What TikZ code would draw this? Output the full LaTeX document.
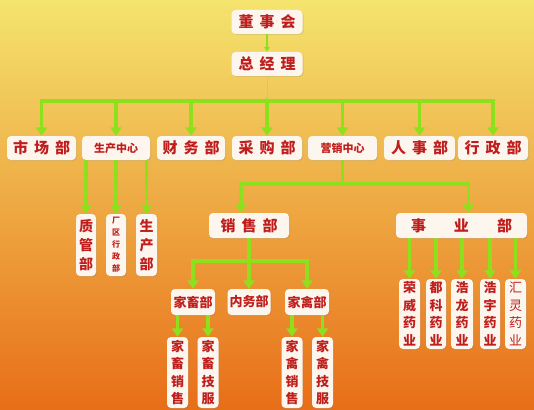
\documentclass[tikz,border=0pt]{standalone}
\usepackage{fontspec}
\newfontfamily\cjk{Noto Sans CJK SC}
\usetikzlibrary{arrows.meta,positioning,shadows}
\definecolor{bgTop}{HTML}{F4E46E}
\definecolor{bgMid}{HTML}{EEAE40}
\definecolor{bgBot}{HTML}{E86E18}
\definecolor{lineGreen}{HTML}{8EE01E}
\definecolor{txtRed}{HTML}{C01E1C}
\definecolor{boxFill}{HTML}{FCF6EE}
\tikzstyle{basic} = [rectangle, rounded corners=4pt, fill=boxFill, text=txtRed, inner sep=0pt, drop shadow={opacity=0.2, shadow xshift=1pt, shadow yshift=-1pt}, font=\cjk\bfseries\fontsize{15}{18}\selectfont]
\tikzstyle{dept} = [basic, minimum width=69pt, minimum height=24pt]
\tikzstyle{smalldept} = [dept, font=\cjk\bfseries\fontsize{11}{13}\selectfont]
\tikzstyle{subdept} = [basic, minimum width=44pt, minimum height=26pt, font=\cjk\bfseries\fontsize{13}{15}\selectfont]
\tikzstyle{vbox} = [basic, align=center, minimum width=21pt, font=\cjk\bfseries\fontsize{13}{17.5}\selectfont]

\begin{document}
\begin{tikzpicture}[x=1pt, y=-1pt]
        \tikzset{link/.style={draw=lineGreen, line width=3.2pt},
            arr/.style={link, -{Triangle[width=11pt,length=8.5pt]}}}
        \shade[top color=bgTop, middle color=bgMid, bottom color=bgBot] (0,0) rectangle (534,409);

        \node (board) [dept, minimum width=71pt] at (267,22) {董\hspace{6pt}事\hspace{6pt}会};
        \node (gm) [dept, minimum width=71pt] at (267,64) {总\hspace{6pt}经\hspace{6pt}理};

        \node (market) [dept] at (41.5,148) {市\hspace{6pt}场\hspace{6pt}部};
        \node (prodCenter) [smalldept, minimum width=68pt] at (116,148) {生产中心};
        \node (finance) [dept, minimum width=68pt] at (191,148) {财\hspace{6pt}务\hspace{6pt}部};
        \node (purchase) [dept, minimum width=70pt] at (267,148) {采\hspace{6pt}购\hspace{6pt}部};
        \node (salesCenter) [smalldept] at (342.5,148) {营销中心};
        \node (hr) [dept, minimum width=71pt] at (419.5,148) {人\hspace{6pt}事\hspace{6pt}部};
        \node (admin) [dept, minimum width=70pt] at (493,148) {行\hspace{6pt}政\hspace{6pt}部};

        \node (quality) [vbox, minimum width=20pt, minimum height=62pt, font=\cjk\bfseries\fontsize{14}{19}\selectfont] at (86,245) {质\\管\\部};
        \node (plantAdmin) [vbox, minimum width=20pt, minimum height=62pt, font=\cjk\bfseries\fontsize{8}{12}\selectfont] at (116,245) {厂\\区\\行\\政\\部};
        \node (production) [vbox, minimum height=62pt, font=\cjk\bfseries\fontsize{14}{19}\selectfont] at (146.5,245) {生\\产\\部};

        \node (sales) [dept, minimum width=80pt, minimum height=25pt] at (249,225.5) {销\hspace{6pt}售\hspace{6pt}部};
        \node (business) [dept, minimum width=131pt, minimum height=25pt] at (461.5,225.5) {事\hspace{28pt}业\hspace{28pt}部};

        \node (livestock) [subdept] at (193,302) {家畜部};
        \node (internal) [subdept, minimum width=43pt] at (249,302) {内务部};
        \node (poultry) [subdept] at (307,302) {家禽部};

        \node (lsSales) [vbox, minimum height=71pt] at (177.5,372.5) {家\\畜\\销\\售};
        \node (lsTech) [vbox, minimum height=71pt] at (208,372.5) {家\\畜\\技\\服};
        \node (ptSales) [vbox, minimum height=71pt] at (292,372.5) {家\\禽\\销\\售};
        \node (ptTech) [vbox, minimum height=71pt] at (322.5,372.5) {家\\禽\\技\\服};

        \node (rongwei) [vbox, minimum height=70pt] at (409.5,314) {荣\\威\\药\\业};
        \node (duke) [vbox, minimum width=20pt, minimum height=70pt] at (436,314) {都\\科\\药\\业};
        \node (haolong) [vbox, minimum width=22pt, minimum height=70pt] at (462,314) {浩\\龙\\药\\业};
        \node (haoyu) [vbox, minimum width=20pt, minimum height=70pt] at (490,314) {浩\\宇\\药\\业};
        \node (huiling) [vbox, minimum height=70pt, font=\cjk\fontsize{13}{17.5}\selectfont] at (515.5,314) {汇\\灵\\药\\业};

        \coordinate (busL) at (41.5,101);
        \coordinate (busR) at (493,101);
        \coordinate (mktJoin) at (342.5,184);
        \coordinate (salesBus) at (249,261);

        \draw [draw=lineGreen, line width=2pt, -{Triangle[width=6pt,length=5pt]}] (board.south) -- (gm.north);
        \draw [draw=lineGreen!80!white, line width=1pt, -{Triangle[width=4pt,length=4pt]}] (gm.south) -- (gm.south |- busL);

        \draw [link, line cap=rect] (busL) -- (busR);
        \foreach \d in {market,prodCenter,finance,purchase,salesCenter,hr,admin}
            \draw [arr] (\d.north |- busL) -- (\d.north);

        \foreach \d in {quality,plantAdmin,production}
            \draw [arr] (\d.north |- prodCenter.south) -- (\d.north);

        \draw [link] (salesCenter.south) -- (mktJoin);
        \draw [arr] (mktJoin) -| ([xshift=-8pt]sales.north);
        \draw [arr] (mktJoin) -| ([xshift=7pt]business.north);

        \foreach \d in {rongwei,duke,haolong,haoyu,huiling}
            \draw [arr] (\d.north |- business.south) -- (\d.north);

        \draw [arr] (sales.south) -- (internal.north);
        \draw [arr] (salesBus) -| (livestock.north);
        \draw [arr] (salesBus) -| (poultry.north);

        \foreach \d in {lsSales,lsTech}
            \draw [arr] (\d.north |- livestock.south) -- (\d.north);
        \foreach \d in {ptSales,ptTech}
            \draw [arr] (\d.north |- poultry.south) -- (\d.north);
\end{tikzpicture}
\end{document}
